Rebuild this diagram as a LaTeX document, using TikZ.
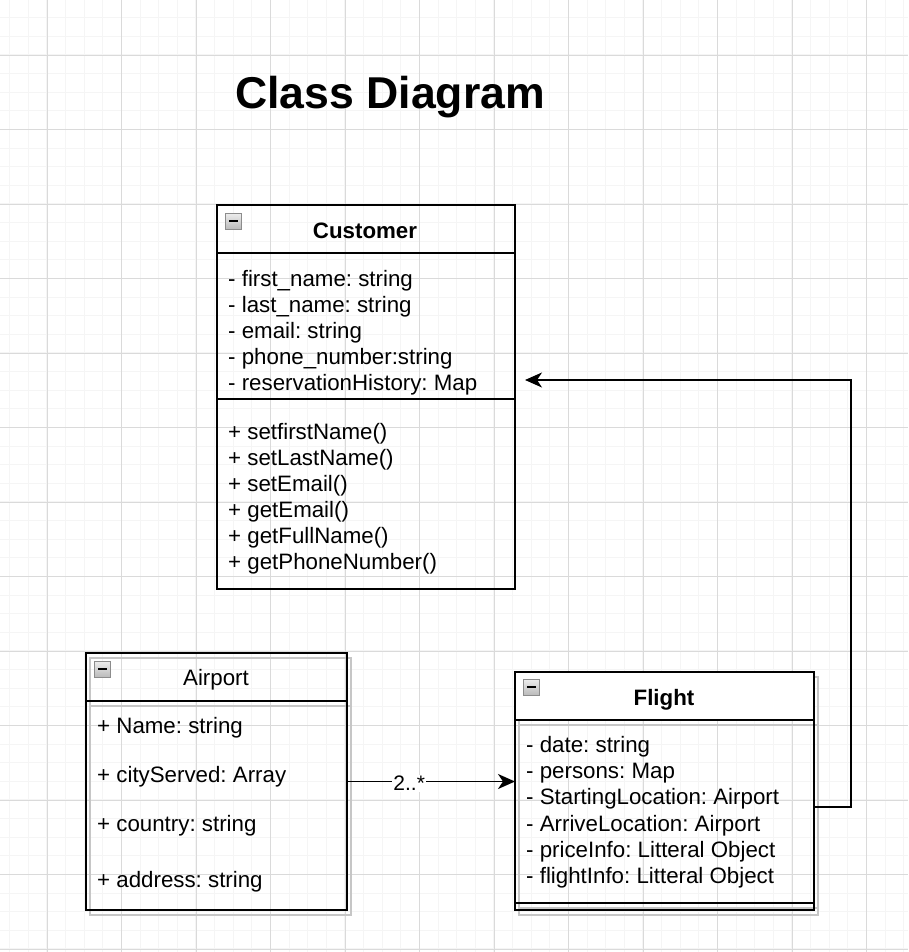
\documentclass[tikz,border=0pt]{standalone}
\usepackage{fontspec}
\setmainfont{Liberation Sans}
\usetikzlibrary{arrows.meta}
\definecolor{gridminor}{HTML}{F5F5F5}
\definecolor{gridmajor}{HTML}{DADADA}
\definecolor{shadowgray}{HTML}{C6C6C6}
\definecolor{iconborder}{HTML}{8C8C8C}
\frenchspacing
\begin{document}
\frenchspacing
\begin{tikzpicture}[x=1pt,y=-1pt,
  minorline/.style={draw=gridminor, line width=1.2pt},
  majorline/.style={draw=gridmajor, line width=0.9pt},
  box/.style={draw=black, line width=1.9pt, inner sep=0pt, outer sep=0pt, anchor=north west},
  boxline/.style={draw=black, line width=1.9pt},
  shadowline/.style={draw=shadowgray, line width=1.9pt},
  txt/.style={font=\fontsize{22.3}{26}\selectfont, anchor=base west, inner sep=0pt},
  ttl/.style={font=\fontsize{22.3}{26}\selectfont\bfseries, anchor=base, inner sep=0pt},
  ttlplain/.style={font=\fontsize{22.3}{26}\selectfont, anchor=base, inner sep=0pt},
  icon/.style={draw=iconborder, line width=1pt, top color=gray!15, bottom color=gray!55,
    minimum size=16pt, inner sep=0pt, anchor=north west,
    path picture={\draw[black, line width=2.2pt]
      ([xshift=3.5pt,yshift=0.5pt]path picture bounding box.west) --
      ([xshift=-3.5pt,yshift=0.5pt]path picture bounding box.east);}},
  arr/.style={draw=black, line width=1.9pt, -{Stealth[length=17pt,width=15pt,inset=5pt]}},
  lbl/.style={font=\fontsize{21}{24}\selectfont, fill=white, inner sep=1pt}
]
\useasboundingbox (0,0) rectangle (908,952);
\fill[white] (0,0) rectangle (908,952);
% grid
\begin{scope}
\clip (0,0) rectangle (908,952);
\foreach \i in {0,...,48} \draw[minorline] ({9.75+18.625*\i},0) -- ({9.75+18.625*\i},952);
\foreach \i in {0,...,50} \draw[minorline] (0,{17.75+18.625*\i}) -- (908,{17.75+18.625*\i});
\foreach \i in {0,...,11} \draw[majorline] ({47+74.5*\i},0) -- ({47+74.5*\i},952);
\foreach \i in {0,...,12} \draw[majorline] (0,{55+74.5*\i}) -- (908,{55+74.5*\i});
\end{scope}

% title
\node[font=\fontsize{44.6}{50}\selectfont\bfseries, anchor=base, inner sep=0pt] (title) at (390,109) {Class Diagram};

% shadows
\draw[shadowline] (90,658) rectangle (351,915);
\draw[shadowline] (90,706) -- (351,706);
\draw[shadowline] (519,677) rectangle (818,915);
\draw[shadowline] (519,725) -- (818,725);
\draw[shadowline] (519,908) -- (818,908);

% Customer
\node[box, minimum width=298pt, minimum height=384pt] (cust) at (217,205) {};
\draw[boxline] (cust.west |- 0,253) -- (cust.east |- 0,253);
\draw[boxline] (cust.west |- 0,399) -- (cust.east |- 0,399);
\node[icon] (custicon) at (225,213) {};
\node[ttl] (custttl) at (365,238) {Customer};
\node[txt] (c1) at (228,286) {- first\_name: string};
\node[txt] (c2) at (228,312) {- last\_name: string};
\node[txt] (c3) at (228,338) {- email: string};
\node[txt] (c4) at (228,364) {- phone\_number:string};
\node[txt] (c5) at (228,390) {- reservationHistory: Map};
\node[txt] (m1) at (228,439) {+ setfirstName()};
\node[txt] (m2) at (228,465) {+ setLastName()};
\node[txt] (m3) at (228,491) {+ setEmail()};
\node[txt] (m4) at (228,517) {+ getEmail()};
\node[txt] (m5) at (228,543) {+ getFullName()};
\node[txt] (m6) at (228,569) {+ getPhoneNumber()};

% Airport
\node[box, minimum width=261pt, minimum height=257pt] (airport) at (86,653) {};
\draw[boxline] (airport.west |- 0,701) -- (airport.east |- 0,701);
\node[icon] (airicon) at (94,661) {};
\node[ttlplain] (airttl) at (216,685) {Airport};
\node[txt] (a1) at (97,733.5) {+ Name: string};
\node[txt] (a2) at (97,782.5) {+ cityServed: Array};
\node[txt] (a3) at (97,831.5) {+ country: string};
\node[txt] (a4) at (97,887.5) {+ address: string};

% Flight
\fill[white] (515,672) rectangle (814,720);
\node[box, minimum width=299pt, minimum height=238pt] (flight) at (515,672) {};
\draw[boxline] (flight.west |- 0,720) -- (flight.east |- 0,720);
\draw[boxline] (flight.west |- 0,903) -- (flight.east |- 0,903);
\node[icon] (flicon) at (523,679) {};
\node[ttl] (flttl) at (664,705) {Flight};
\node[txt] (f1) at (526,752) {- date: string};
\node[txt] (f2) at (526,778) {- persons: Map};
\node[txt] (f3) at (526,804) {- StartingLocation: Airport};
\node[txt] (f4) at (526,831) {- ArriveLocation: Airport};
\node[txt] (f5) at (526,857) {- priceInfo: Litteral Object};
\node[txt] (f6) at (526,883) {- flightInfo: Litteral Object};

% connectors
\draw[arr] (airport.east) -- (airport.east -| flight.west)
  node[lbl, pos=0.37, yshift=-2pt] (mult) {2..*};
\coordinate (turn) at (851,380);
\coordinate (custtip) at ([xshift=10pt,yshift=17pt]cust.east);
\draw[arr] ([yshift=-16pt]flight.east) -| (turn) -- (custtip);
\end{tikzpicture}
\end{document}
